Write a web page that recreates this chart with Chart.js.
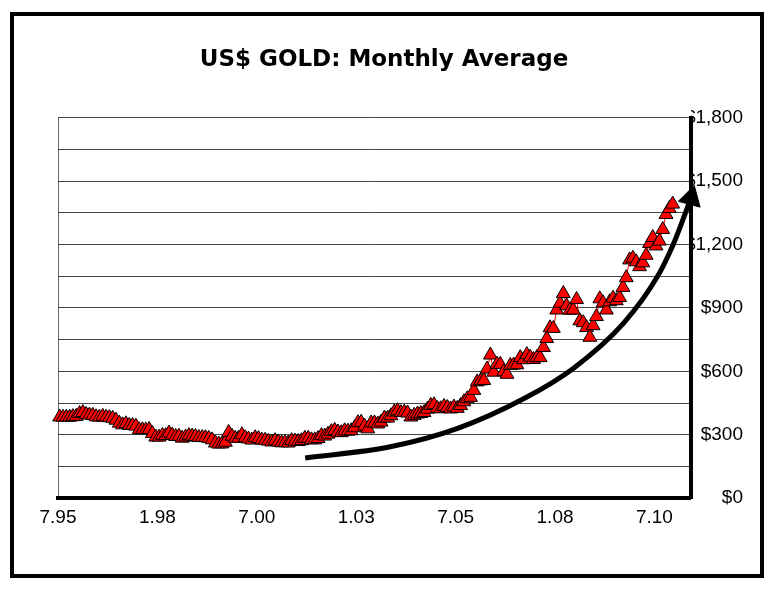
<!DOCTYPE html>
<html>
<head>
<meta charset="utf-8">
<script src="https://cdn.jsdelivr.net/npm/chart.js@4.4.1/dist/chart.umd.min.js"></script>
<style>
  html, body { margin: 0; padding: 0; background: #fff; }
  #wrap { position: relative; width: 780px; height: 591px; }
  #frame {
    position: absolute; left: 10px; top: 12px; width: 754px; height: 566px;
    border: 4px solid #000; box-sizing: border-box; pointer-events: none;
  }
</style>
</head>
<body>
<div id="wrap">
  <canvas id="chartGold" width="780" height="591"></canvas>
  <div id="frame"></div>
</div>
<script>
// monthly average gold price, US$ / oz (7.95 .. 12.10)
const gold1995 = [384, 383, 383, 383, 386, 387]; // jul-dec
const gold1996 = [400, 405, 396, 393, 392, 385, 383, 387, 383, 381, 378, 369];
const gold1997 = [355, 347, 352, 344, 344, 341, 324, 324, 323, 325, 306, 289];
const gold1998 = [289, 297, 296, 308, 299, 292, 293, 284, 289, 296, 294, 292];
const gold1999 = [287, 287, 286, 283, 276, 261, 256, 257, 265, 311, 293, 283];
const gold2000 = [284, 300, 286, 280, 275, 286, 282, 275, 274, 270, 266, 272];
const gold2001 = [266, 262, 263, 261, 272, 270, 268, 272, 283, 283, 276, 276];
const gold2002 = [282, 296, 294, 303, 315, 321, 313, 310, 319, 317, 319, 333];
const gold2003 = [357, 359, 341, 328, 356, 356, 351, 360, 379, 379, 390, 408];
const gold2004 = [414, 405, 407, 403, 384, 392, 398, 401, 405, 421, 439, 442];
const gold2005 = [424, 423, 434, 429, 422, 431, 425, 438, 456, 470, 477, 510];
const gold2006 = [550, 555, 557, 611, 677, 596, 634, 633, 598, 586, 628, 630];
const gold2007 = [631, 665, 655, 679, 667, 656, 665, 665, 713, 755, 806, 803];
const gold2008 = [890, 922, 968, 910, 889, 890, 940, 839, 830, 807, 761, 816];
const gold2009 = [859, 943, 924, 890, 929, 946, 934, 949, 997, 1043, 1127, 1135];
const gold2010 = [1118, 1095, 1113, 1149, 1205, 1233, 1193, 1216, 1271, 1342, 1370, 1391];

// month index of the axis labels (0 = 7.95)
const xTickIdx = [0, 30, 60, 90, 120, 150, 180];
const xTickLabels = ["7.95", "1.98", "7.00", "1.03", "7.05", "1.08", "7.10"];
const monthsOnAxis = 191;

// hand drawn trend arrow (month index, US$)
const arrowX = [74.6, 100.3, 120.6, 140.5, 155.6, 170.7, 180.9, 185.8, 188.9, 191.0];
const arrowY = [190, 243, 330, 470, 615, 828, 1048, 1205, 1330, 1420];

const goldValues = [].concat(
  gold1995, gold1996, gold1997, gold1998, gold1999, gold2000, gold2001, gold2002,
  gold2003, gold2004, gold2005, gold2006, gold2007, gold2008, gold2009, gold2010
);

const ctx = document.getElementById("chartGold");

const chartGold = new Chart(ctx, {
  type: "scatter",
  data: {
    datasets: [
      {
        // arrow on top of the triangles
        data: arrowX.map((x, i) => ({ x: x, y: arrowY[i] })),
        showLine: true,
        borderColor: "#000",
        borderWidth: 5,
        cubicInterpolationMode: "monotone",
        pointStyle: "triangle",
        pointRadius: (c) => (c.dataIndex === arrowX.length - 1 ? 13 : 0),
        pointHoverRadius: 0,
        pointRotation: 15,
        pointBackgroundColor: "#000",
        pointBorderColor: "#000",
        pointBorderWidth: 1,
        clip: false,
      },
      {
        label: "US$ Gold",
        data: goldValues.map((v, i) => ({ x: i + 0.5, y: v })),
        showLine: true,
        borderColor: "#ff0000",
        borderWidth: 1,
        pointStyle: "triangle",
        pointRadius: 8,
        pointHoverRadius: 8,
        pointBackgroundColor: "#ff0000",
        pointBorderColor: "#000",
        pointBorderWidth: 1,
        clip: false,
      },
    ],
  },
  options: {
    responsive: false,
    animation: false,
    events: [],
    layout: {
      padding: { left: 25, right: 37, top: 0, bottom: 54 },
    },
    plugins: {
      legend: { display: false },
      tooltip: { enabled: false },
      title: {
        display: true,
        text: "US$ GOLD: Monthly Average",
        color: "#000",
        font: { family: "DejaVu Sans", weight: "bold", size: 23 },
        padding: { top: 46, bottom: 44 },
      },
    },
    scales: {
      x: {
        type: "linear",
        min: 0,
        max: monthsOnAxis,
        afterBuildTicks: (scale) => {
          scale.ticks = xTickIdx.map((v) => ({ value: v }));
        },
        ticks: {
          padding: 8,
          color: "#000",
          font: { family: "Liberation Sans", size: 19 },
          maxRotation: 0,
          autoSkip: false,
          callback: (value) => xTickLabels[xTickIdx.indexOf(value)],
        },
        grid: {
          drawTicks: false,
          color: (c) => (c.tick && c.tick.value === 0 ? "#666" : "rgba(0,0,0,0)"),
          lineWidth: 1,
        },
        border: { color: "#000", width: 4 },
      },
      y: {
        position: "right",
        min: 0,
        max: 1800,
        ticks: {
          stepSize: 150,
          padding: -3,
          crossAlign: "far",
          color: "#000",
          font: { family: "Liberation Sans", size: 19 },
          callback: (v) => (v % 300 === 0 ? "$" + v.toLocaleString("en-US") : ""),
        },
        grid: { drawTicks: false, color: "#444", lineWidth: 1 },
        border: { color: "#000", width: 4 },
      },
      // empty spacer on the left so the title sits where it does in the original
      spacer: {
        type: "linear",
        position: "left",
        display: true,
        ticks: { display: false },
        grid: { display: false, drawTicks: false },
        border: { display: false },
        afterFit: (scale) => {
          scale.width = 33;
        },
      },
    },
  },
});
</script>
</body>
</html>
